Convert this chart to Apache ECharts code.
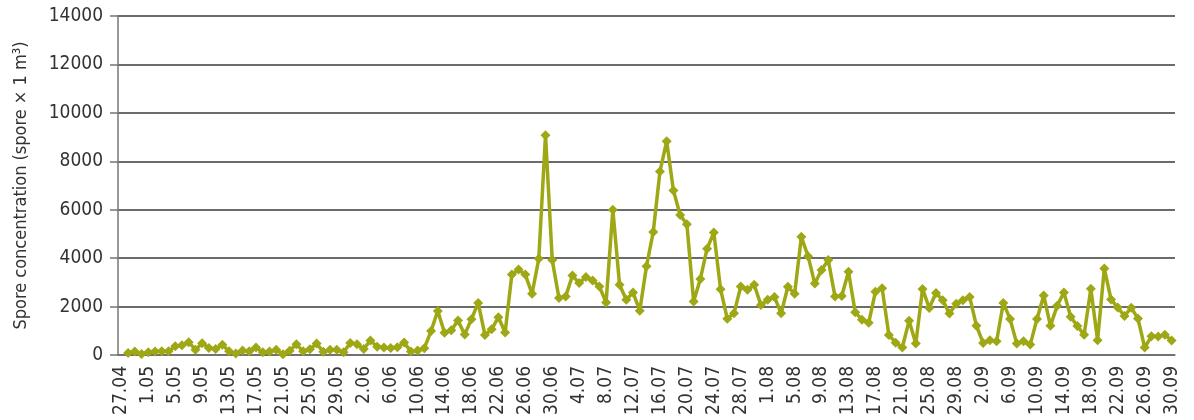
<!DOCTYPE html>
<html>
<head>
    <meta charset="utf-8">
    <title>Spore concentration</title>
    <script src="https://cdn.jsdelivr.net/npm/echarts@6/dist/echarts.min.js"></script>
    <style>
        html, body { margin: 0; padding: 0; background: #fff; }
        #chart { width: 1194px; height: 420px; }
    </style>
</head>
<body>
<div id="chart"></div>
<script>
    // daily values, one array per month
    var aprilValues = ['-', 80, 140, 40];
    var mayValues = [110, 140, 160, 150, 360, 400, 530, 220, 490, 290, 250, 420, 150, 60, 190, 150,
        310, 110, 140, 220, 30, 180, 440, 150, 240, 470, 130, 220, 220, 110, 500];
    var juneValues = [440, 250, 600, 340, 310, 290, 320, 520, 140, 190, 280, 990, 1820, 920, 1020,
        1420, 850, 1480, 2150, 830, 1060, 1560, 930, 3320, 3530, 3320, 2530, 3970, 9080, 3920];
    var julyValues = [2350, 2420, 3280, 2970, 3220, 3080, 2830, 2170, 6000, 2900, 2280, 2580, 1830,
        3670, 5080, 7580, 8830, 6790, 5780, 5400, 2210, 3140, 4390, 5060, 2720, 1500, 1720, 2830,
        2690, 2900, 2060];
    var augustValues = [2280, 2400, 1720, 2820, 2530, 4880, 4080, 2950, 3510, 3920, 2420, 2440, 3440,
        1770, 1460, 1330, 2610, 2760, 830, 510, 310, 1410, 470, 2730, 1940, 2560, 2260, 1710, 2120,
        2260, 2400];
    var septemberValues = [1210, 500, 610, 565, 2150, 1490, 470, 565, 430, 1490, 2460, 1205, 2035,
        2585, 1580, 1195, 838, 2740, 605, 3570, 2295, 1960, 1610, 1955, 1505, 310, 770, 760, 838, 600];

    // month, first day, last day -> labels like "27.04"
    var monthRanges = [['04', 27, 30], ['05', 1, 31], ['06', 1, 30], ['07', 1, 31], ['08', 1, 31], ['09', 1, 30]];
    var yTicks = [0, 2000, 4000, 6000, 8000, 10000, 12000, 14000];
    var yTitle = 'Spore concentration (spore \u00d7 1 m\u00b3)';

    var days = [];
    monthRanges.forEach(function (m) {
        for (var d = m[1]; d <= m[2]; d++) {
            days.push(d + '.' + m[0]);
        }
    });
    var values = [].concat(aprilValues, mayValues, juneValues, julyValues, augustValues, septemberValues);

    var font = "'Liberation Sans Narrow', 'DejaVu Sans Condensed', 'Liberation Sans', sans-serif";
    var lineColor = '#9ea714';
    var textColor = '#333333';

    var myChart = echarts.init(document.getElementById('chart'));
    var option = {
        animation: false,
        grid: {left: 118, right: 19, top: 16, bottom: 65},
        xAxis: {
            type: 'category',
            data: days,
            boundaryGap: true,
            axisLine: {lineStyle: {color: '#767676', width: 1.5}},
            axisTick: {interval: 3, length: 8, lineStyle: {color: '#767676', width: 1.5}},
            axisLabel: {
                interval: 3,
                rotate: 90,
                margin: 11,
                fontSize: 19,
                fontFamily: font,
                color: textColor
            },
            splitLine: {show: false}
        },
        yAxis: {
            type: 'value',
            min: yTicks[0],
            max: yTicks[yTicks.length - 1],
            interval: yTicks[1] - yTicks[0],
            name: yTitle,
            nameLocation: 'middle',
            nameRotate: 90,
            nameGap: 88,
            nameTextStyle: {fontSize: 18, fontFamily: font, color: textColor},
            axisLine: {show: true, lineStyle: {color: '#767676', width: 1.5}},
            axisTick: {show: true, length: 8, lineStyle: {color: '#767676', width: 1.5}},
            axisLabel: {
                margin: 15,
                fontSize: 19,
                fontFamily: font,
                color: textColor,
                formatter: function (v) { return String(v); }
            },
            splitLine: {lineStyle: {color: '#6b6b6b', width: 2}}
        },
        series: [{
            type: 'line',
            data: values,
            symbol: 'diamond',
            symbolSize: 10,
            showAllSymbol: true,
            lineStyle: {color: lineColor, width: 3.5},
            itemStyle: {color: lineColor}
        }]
    };
    myChart.setOption(option);
</script>
</body>
</html>
